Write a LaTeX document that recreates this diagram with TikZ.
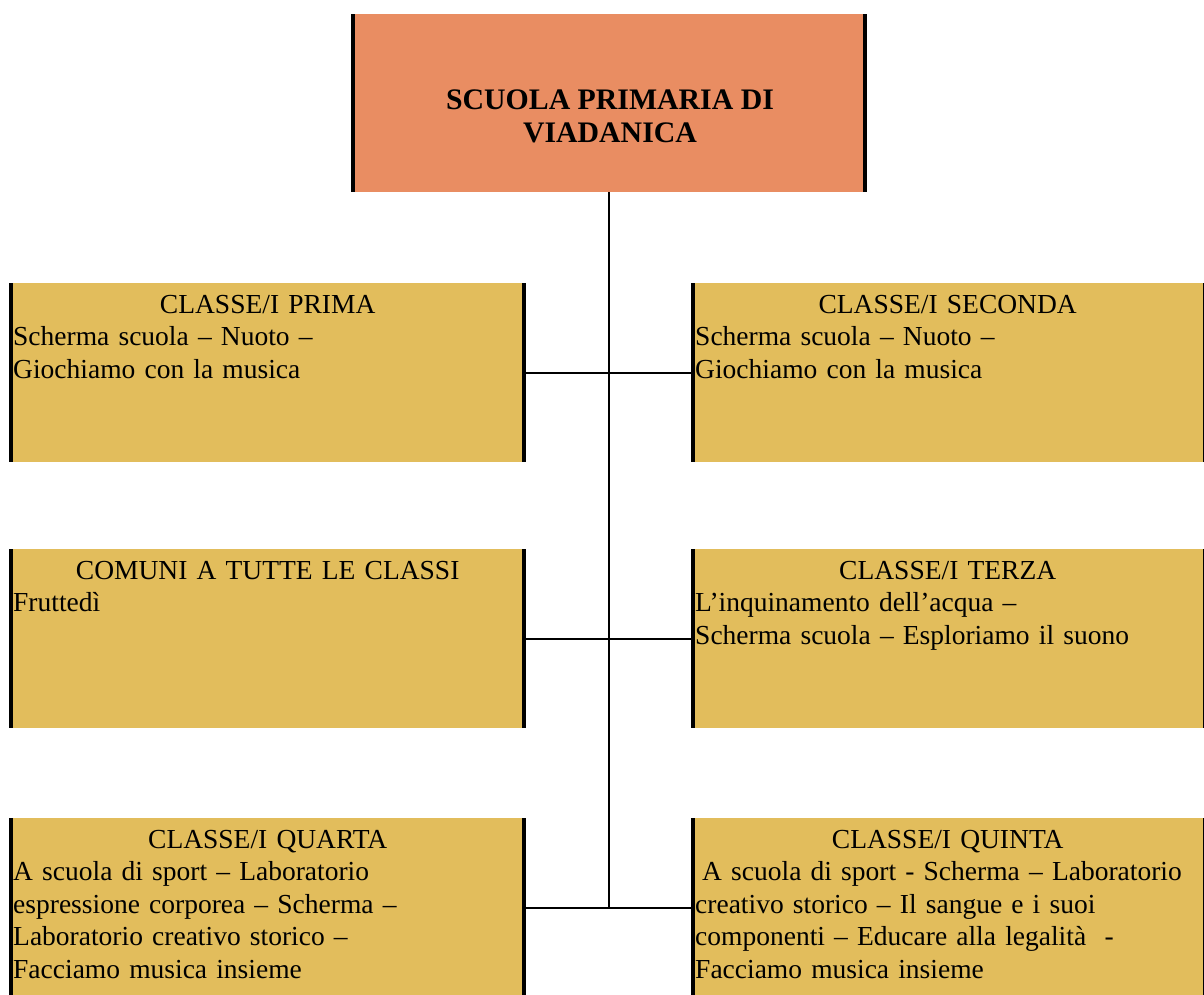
\documentclass[tikz,border=0pt]{standalone}
\usepackage{fontspec}
\setmainfont{Liberation Serif}
\definecolor{goldfill}{RGB}{226,189,92}
\definecolor{orangefill}{RGB}{233,141,98}
\tikzset{
  gbox/.style={fill=goldfill, draw=none, minimum height=179pt, inner sep=0pt, anchor=north west},
  obox/.style={fill=orangefill, draw=none, minimum width=516pt, minimum height=178pt, inner sep=0pt, anchor=north west},
  side/.style={line width=4pt, black},
  conn/.style={line width=2.4pt, black},
  txt/.style={inner sep=0pt, anchor=north west, align=left, font=\fontsize{27.5}{32.5}\selectfont}
}
\begin{document}
\begin{tikzpicture}[x=1pt,y=-1pt]
\useasboundingbox (0,0) rectangle (1204,994);
% top box
\node[obox] (top) at (351,14) {};
\draw[side] ([xshift=2pt]top.north west) -- ([xshift=2pt]top.south west);
\draw[side] ([xshift=-2pt]top.north east) -- ([xshift=-2pt]top.south east);
\node[font=\fontsize{29.8}{33}\selectfont\bfseries, align=center, inner sep=0pt] (toptext) at (610,116) {SCUOLA PRIMARIA DI\\VIADANICA};
% boxes
\node[gbox, minimum width=517pt] (p1) at (9,283) {};
\node[gbox, minimum width=513pt] (p2) at (691,283) {};
\node[gbox, minimum width=517pt] (c) at (9,549) {};
\node[gbox, minimum width=513pt] (p3) at (691,549) {};
\node[gbox, minimum width=517pt] (p4) at (9,818) {};
\node[gbox, minimum width=513pt] (p5) at (691,818) {};
\foreach \b in {p1,c,p4}{
  \draw[side] ([xshift=2pt]\b.north west) -- ([xshift=2pt]\b.south west);
  \draw[side] ([xshift=-2pt]\b.north east) -- ([xshift=-2pt]\b.south east);
}
\foreach \b in {p2,p3,p5}{
  \draw[side] ([xshift=2pt]\b.north west) -- ([xshift=2pt]\b.south west);
  \draw[line width=1.5pt] ([xshift=-0.75pt]\b.north east) -- ([xshift=-0.75pt]\b.south east);
}
% texts
\node[txt, text width=509pt] (p1t) at ([xshift=4pt,yshift=-12pt]p1.north west)
  {\makebox[\linewidth]{CLASSE/I PRIMA}\\Scherma scuola – Nuoto –\\Giochiamo con la musica};
\node[txt, text width=505pt] (p2t) at ([xshift=4pt,yshift=-12pt]p2.north west)
  {\makebox[\linewidth]{CLASSE/I SECONDA}\\Scherma scuola – Nuoto –\\Giochiamo con la musica};
\node[txt, text width=509pt] (ct) at ([xshift=4pt,yshift=-12pt]c.north west)
  {\makebox[\linewidth]{COMUNI A TUTTE LE CLASSI}\\Fruttedì};
\node[txt, text width=505pt] (p3t) at ([xshift=4pt,yshift=-12pt]p3.north west)
  {\makebox[\linewidth]{CLASSE/I TERZA}\\L’inquinamento dell’acqua –\\Scherma scuola – Esploriamo il suono};
\node[txt, text width=509pt] (p4t) at ([xshift=4pt,yshift=-12pt]p4.north west)
  {\makebox[\linewidth]{CLASSE/I QUARTA}\\A scuola di sport – Laboratorio\\espressione corporea – Scherma –\\Laboratorio creativo storico –\\Facciamo musica insieme};
\node[txt, text width=505pt] (p5t) at ([xshift=4pt,yshift=-12pt]p5.north west)
  {\makebox[\linewidth]{CLASSE/I QUINTA}\\\hspace*{7pt}A scuola di sport - Scherma – Laboratorio\\creativo storico – Il sangue e i suoi\\componenti – Educare alla legalità\ \ -\\Facciamo musica insieme};
% connectors
\coordinate (j3) at (top.south |- p4.east);
\draw[conn] (top.south) -- (j3);
\draw[conn] (p1.east) -- (p2.west);
\draw[conn] (c.east) -- (p3.west);
\draw[conn] (p4.east) -- (p5.west);
\end{tikzpicture}
\end{document}
